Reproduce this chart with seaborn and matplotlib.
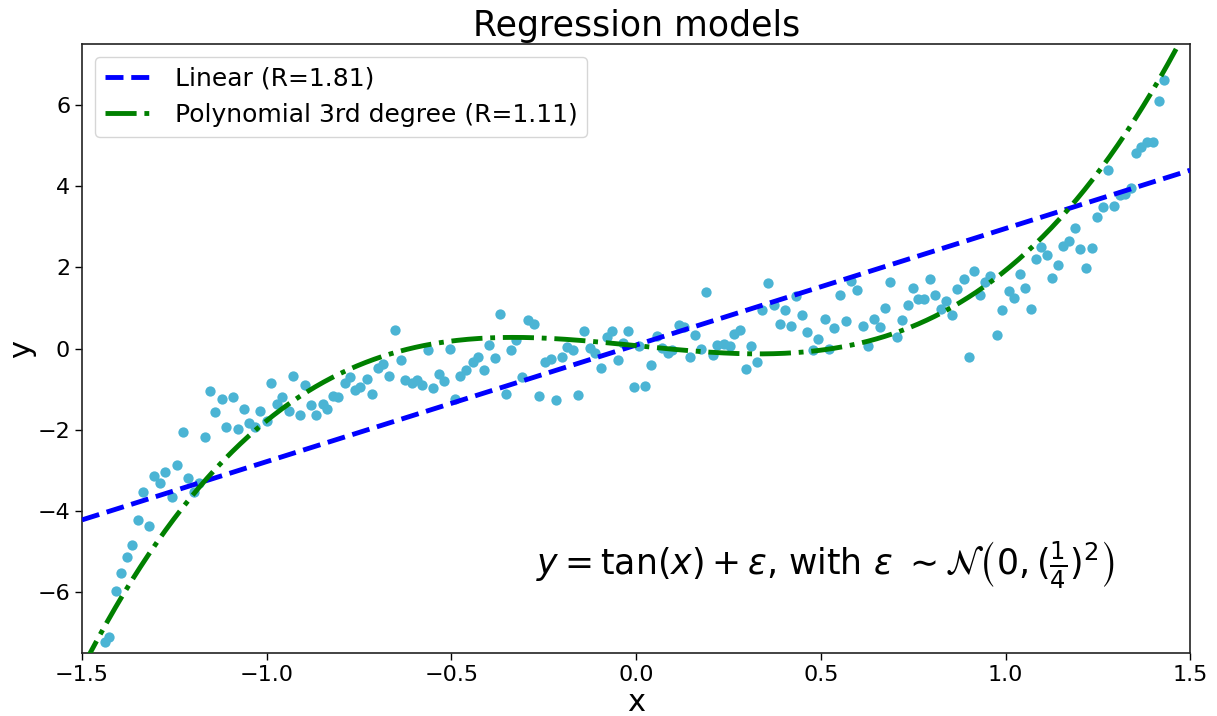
import numpy as np
import matplotlib
matplotlib.use("Agg")
import matplotlib.pyplot as plt
import seaborn as sns

# ---- data ----
x_vals = [-1.439, -1.426, -1.408, -1.395, -1.378, -1.365, -1.348, -1.334, -1.318, -1.304,
          -1.288, -1.275, -1.257, -1.244, -1.227, -1.214, -1.197, -1.184, -1.166, -1.153,
          -1.139, -1.121, -1.109, -1.092, -1.079, -1.062, -1.048, -1.032, -1.018, -1.000,
          -0.988, -0.973, -0.958, -0.940, -0.928, -0.911, -0.897, -0.880, -0.867, -0.849,
          -0.838, -0.820, -0.806, -0.789, -0.775, -0.760, -0.747, -0.728, -0.715, -0.699,
          -0.685, -0.668, -0.654, -0.637, -0.625, -0.607, -0.594, -0.580, -0.563, -0.550,
          -0.534, -0.521, -0.504, -0.489, -0.477, -0.460, -0.442, -0.429, -0.413, -0.398,
          -0.382, -0.368, -0.352, -0.338, -0.325, -0.310, -0.292, -0.277, -0.262, -0.246,
          -0.230, -0.217, -0.200, -0.188, -0.171, -0.157, -0.140, -0.125, -0.110, -0.096,
          -0.079, -0.065, -0.049, -0.035, -0.021, -0.005, 0.009, 0.024, 0.040, 0.056,
          0.070, 0.086, 0.098, 0.116, 0.130, 0.146, 0.160, 0.176, 0.190, 0.207,
          0.220, 0.238, 0.253, 0.266, 0.281, 0.297, 0.312, 0.328, 0.341, 0.358,
          0.373, 0.389, 0.403, 0.419, 0.434, 0.449, 0.463, 0.480, 0.491, 0.510,
          0.523, 0.536, 0.553, 0.567, 0.582, 0.598, 0.614, 0.628, 0.644, 0.659,
          0.675, 0.688, 0.706, 0.719, 0.735, 0.749, 0.764, 0.780, 0.796, 0.810,
          0.826, 0.839, 0.856, 0.869, 0.887, 0.901, 0.916, 0.931, 0.945, 0.959,
          0.977, 0.991, 1.010, 1.022, 1.039, 1.053, 1.069, 1.082, 1.096, 1.113,
          1.126, 1.143, 1.156, 1.173, 1.187, 1.202, 1.217, 1.234, 1.247, 1.264,
          1.277, 1.294, 1.309, 1.324, 1.340, 1.354, 1.367, 1.384, 1.398, 1.416, 1.430]

y_vals = [-7.24, -7.11, -5.98, -5.52, -5.14, -4.85, -4.22, -3.53, -4.36, -3.13,
          -3.32, -3.04, -3.66, -2.86, -2.06, -3.19, -3.54, -3.31, -2.19, -1.05,
          -1.57, -1.24, -1.94, -1.20, -1.98, -1.48, -1.84, -1.93, -1.54, -1.79,
          -0.84, -1.36, -1.20, -1.55, -0.68, -1.64, -0.91, -1.39, -1.64, -1.36,
          -1.48, -1.17, -1.20, -0.84, -0.69, -1.02, -0.94, -0.75, -1.11, -0.47,
          -0.38, -0.68, 0.45, -0.28, -0.78, -0.85, -0.77, -0.90, -0.04, -0.97,
          -0.62, -0.80, -0.01, -1.24, -0.68, -0.53, -0.32, -0.22, -0.53, 0.08,
          -0.23, 0.85, -1.11, -0.04, 0.20, -0.70, 0.70, 0.60, -1.18, -0.34,
          -0.26, -1.26, -0.22, 0.04, -0.04, -1.15, 0.42, 0.02, -0.12, -0.47,
          0.29, 0.42, -0.28, 0.13, 0.42, -0.96, 0.05, -0.92, -0.41, 0.31,
          0.01, -0.10, -0.04, 0.57, 0.52, -0.22, 0.33, -0.01, 1.39, -0.17,
          0.09, 0.10, 0.05, 0.36, 0.46, -0.50, 0.05, -0.32, 0.96, 1.61,
          1.08, 0.61, 0.94, 0.55, 1.30, 0.82, 0.40, -0.04, 0.24, 0.73,
          -0.01, 0.51, 1.31, 0.67, 1.67, 1.44, 0.56, 0.05, 0.73, 0.54,
          1.00, 1.65, 0.29, 0.70, 1.06, 1.49, 1.21, 1.21, 1.70, 1.31,
          0.97, 1.16, 0.82, 1.46, 1.70, -0.22, 1.92, 1.31, 1.63, 1.79,
          0.33, 0.95, 1.41, 1.25, 1.83, 1.49, 0.98, 2.20, 2.49, 2.30,
          1.74, 2.05, 2.53, 2.66, 2.97, 2.44, 1.98, 2.47, 3.24, 3.49,
          4.40, 3.52, 3.79, 3.81, 3.95, 4.82, 4.96, 5.08, 5.08, 6.09, 6.61]

# fitted model curves (points lying on each curve)
linear_x = [-1.478, -0.504, 0.011, 0.489, 0.977, 1.500]
linear_y = [-4.14, -1.42, 0.17, 1.48, 2.88, 4.40]
cubic_x = [-1.474, -1.375, -1.298, -1.118, -0.978, -0.901, -0.772, -0.636, -0.496,
           -0.355, -0.210, -0.070, 0.209, 0.358, 0.480, 0.643, 0.778, 0.900, 0.977,
           1.013, 1.119, 1.213, 1.298, 1.376, 1.450]
cubic_y = [-7.50, -5.87, -4.78, -2.75, -1.43, -1.12, -0.50, -0.08, 0.16,
           0.21, 0.21, 0.11, -0.12, -0.14, -0.04, 0.23, 0.66, 1.28, 1.77,
           2.06, 2.94, 3.90, 4.96, 6.04, 7.10]

model_labels = ["Linear (R=1.81)", "Polynomial 3rd degree (R=1.11)"]
x_ticks = [-1.5, -1.0, -0.5, 0.0, 0.5, 1.0, 1.5]
y_ticks = [-6, -4, -2, 0, 2, 4, 6]

# ---- style ----
sns.set_style("ticks")
plt.rcParams['font.family'] = ['DejaVu Sans']
for k in ['text.color', 'axes.labelcolor', 'xtick.color', 'ytick.color']:
    plt.rcParams[k] = 'black'
plt.rcParams['axes.edgecolor'] = '#222222'

fig = plt.figure(figsize=(12.17, 7.16), dpi=100)
ax = fig.add_axes([0.0674, 0.088, 0.9106, 0.8505])

sns.scatterplot(x=np.array(x_vals), y=np.array(y_vals), ax=ax, color='#4bb4d4', s=55,
                linewidth=0, legend=False, zorder=2)

grid = np.linspace(-1.5, 1.5, 400)
lin_coef = np.polyfit(linear_x, linear_y, 1)
cub_coef = np.polyfit(cubic_x, cubic_y, 3)
sns.lineplot(x=grid, y=np.polyval(lin_coef, grid), ax=ax, label=model_labels[0],
             color='blue', linestyle='--', linewidth=3.5, sort=False, zorder=3)
sns.lineplot(x=grid, y=np.polyval(cub_coef, grid), ax=ax, label=model_labels[1],
             color='green', linestyle='-.', linewidth=3.5, sort=False, zorder=3)

ax.set_xlim(-1.5, 1.5)
ax.set_ylim(-7.5, 7.5)
ax.set_xticks(x_ticks)
ax.set_yticks(y_ticks)
ax.tick_params(labelsize=16, length=5, width=1)
ax.set_xlabel("x", fontsize=22, labelpad=2)
ax.set_ylabel("y", fontsize=22, labelpad=1)
ax.set_title("Regression models", fontsize=25, pad=6)
for sp in ax.spines.values():
    sp.set_visible(True)
    sp.set_linewidth(1.2)

ax.text(-0.27, -5.35,
        r'$y = \tan(x) + \varepsilon$, with $\varepsilon\ \sim \mathcal{N}\left(0, (\frac{1}{4})^2\right)$',
        fontsize=25, ha='left', va='center')

ax.legend(loc='upper left', fontsize=18, handlelength=2.0, frameon=True)

fig.savefig("out.png", dpi=100)
